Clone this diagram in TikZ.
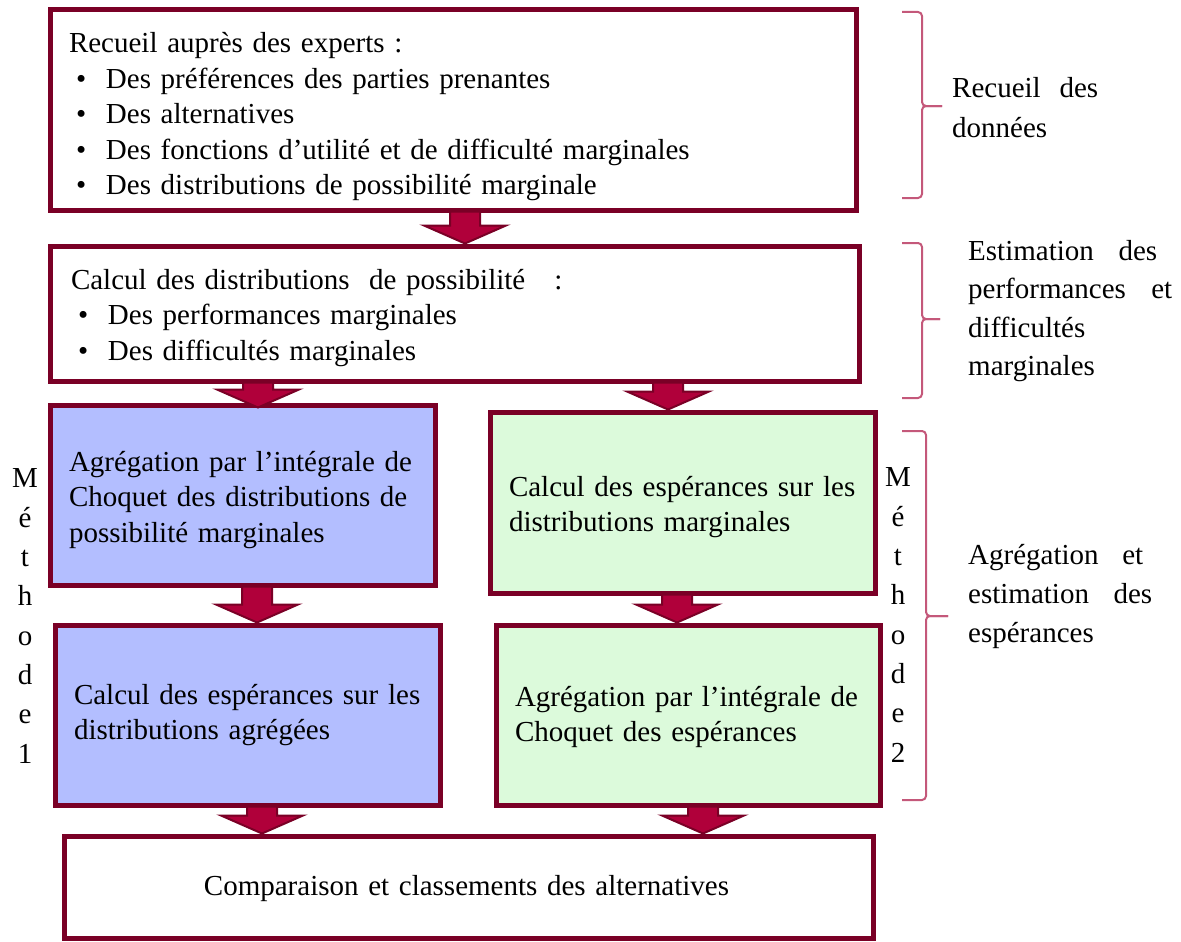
\documentclass[tikz,border=0pt]{standalone}
\usepackage{fontspec}
\setmainfont{Liberation Serif}
\usetikzlibrary{calc}
\definecolor{boxline}{HTML}{7A0026}
\definecolor{arrfill}{HTML}{B0003A}
\definecolor{bluefill}{HTML}{B3BEFF}
\definecolor{greenfill}{HTML}{DCFADB}
\definecolor{bracecol}{HTML}{C4587A}
\newcommand{\blockarr}[4][0]{%
  \draw[arrowsty] let \p0=(#4,0), \p1=(#2.south), \p2=(#3.north) in
    (\x0-15pt,\y1+1pt) -- (\x0-15pt,\y2+18pt-#1pt) -- (\x0-41pt,\y2+18pt-#1pt) -- (\x0,\y2-#1pt)
    -- (\x0+41pt,\y2+18pt-#1pt) -- (\x0+15pt,\y2+18pt-#1pt) -- (\x0+15pt,\y1+1pt) -- cycle;}
\newcommand{\bul}{\hspace*{7pt}\makebox[30pt][l]{•}}
\begin{document}
\begin{tikzpicture}[x=1pt,y=-1pt,
  mybox/.style={draw=boxline, line width=5pt, rectangle, inner sep=0pt},
  boxtext/.style={inner sep=0pt, font=\fontsize{29}{35.5}\selectfont, align=left},
  arrowsty/.style={draw=boxline, fill=arrfill, line width=2pt, line join=miter},
  bracesty/.style={draw=bracecol, line width=2pt, rounded corners=4pt},
  sidelabel/.style={anchor=west, inner sep=0pt, align=left},
  vlabel/.style={inner sep=0pt, align=center, font=\fontsize{29}{39.3}\selectfont}]
\useasboundingbox (0,0) rectangle (1181,942);

% boxes
\node[mybox, minimum width=806pt, minimum height=200pt] (b1) at (453,110) {};
\node[mybox, minimum width=809pt, minimum height=135pt] (b2) at (454.5,313.5) {};
\node[mybox, fill=bluefill, minimum width=385pt, minimum height=180pt] (b3) at (242.5,495) {};
\node[mybox, fill=greenfill, minimum width=385pt, minimum height=181pt] (b4) at (682.5,502.5) {};
\node[mybox, fill=bluefill, minimum width=385pt, minimum height=180pt] (b5) at (247.5,715) {};
\node[mybox, fill=greenfill, minimum width=384pt, minimum height=180pt] (b6) at (688,715) {};
\node[mybox, minimum width=809pt, minimum height=102pt] (b7) at (468.5,887) {};

% box texts
\node[boxtext, text width=768pt] (b1t) at ([yshift=-7pt]b1.center)
  {Recueil auprès des experts :\\
   \bul Des préférences des parties prenantes\\
   \bul Des alternatives\\
   \bul Des fonctions d’utilité et de difficulté marginales\\
   \bul Des distributions de possibilité marginale};
\node[boxtext, text width=769pt] (b2t) at ([yshift=-4.5pt,xshift=1pt]b2.center)
  {Calcul des distributions\ \ de possibilité\ \ \ :\\
   \bul Des performances marginales\\
   \bul Des difficultés marginales};
\node[boxtext, text width=347pt] (b3t) at ([yshift=-5pt]b3.center)
  {Agrégation par l’intégrale de\\Choquet des distributions de\\possibilité marginales};
\node[boxtext, text width=347pt] (b4t) at ([yshift=-4.5pt]b4.center)
  {Calcul des espérances sur les\\distributions marginales};
\node[boxtext, text width=347pt] (b5t) at (b5.center)
  {Calcul des espérances sur les\\distributions agrégées};
\node[boxtext, text width=346pt] (b6t) at ([yshift=-2pt]b6.center)
  {Agrégation par l’intégrale de\\Choquet des espérances};
\node[boxtext, align=center, text width=771pt] (b7t) at ([yshift=-2pt,xshift=-2pt]b7.center)
  {Comparaison et classements des alternatives};

% block arrows
\blockarr{b1}{b2}{465}
\blockarr[5]{b2}{b3}{258}
\blockarr{b2}{b4}{668}
\blockarr{b3}{b5}{257}
\blockarr{b4}{b6}{677}
\blockarr{b5}{b7}{262}
\blockarr{b6}{b7}{703}

% braces
\coordinate (t1) at (942,106);
\coordinate (t2) at (940,319);
\coordinate (t3) at (948,616);
\draw[bracesty] (902,12) -- (922,12) -- (922,106) -- (t1);
\draw[bracesty] (902,198) -- (922,198) -- (922,106) -- (t1);
\draw[bracesty] (902,243) -- (922,243) -- (922,319) -- (t2);
\draw[bracesty] (902,398) -- (922,398) -- (922,319) -- (t2);
\draw[bracesty] (902,431) -- (926,431) -- (926,616) -- (t3);
\draw[bracesty] (902,800) -- (926,800) -- (926,616) -- (t3);

% side labels
\node[sidelabel, font=\fontsize{29}{40}\selectfont] (l1) at (952,108)
  {\hbox to 146pt{Recueil\hfill des}\\données};
\node[sidelabel, font=\fontsize{29}{38.5}\selectfont] (l2) at (968,311)
  {\hbox to 189pt{Estimation\hfill des}\\\hbox to 204pt{performances\hfill et}\\difficultés\\marginales};
\node[sidelabel, font=\fontsize{29}{39}\selectfont] (l3) at (968,596)
  {\hbox to 175pt{Agrégation\hfill et}\\\hbox to 184pt{estimation\hfill des}\\espérances};

% vertical method labels
\node[vlabel] (m1) at (25,616) {M\\é\\t\\h\\o\\d\\e\\1};
\node[vlabel] (m2) at (898,615) {M\\é\\t\\h\\o\\d\\e\\2};
\end{tikzpicture}
\end{document}
